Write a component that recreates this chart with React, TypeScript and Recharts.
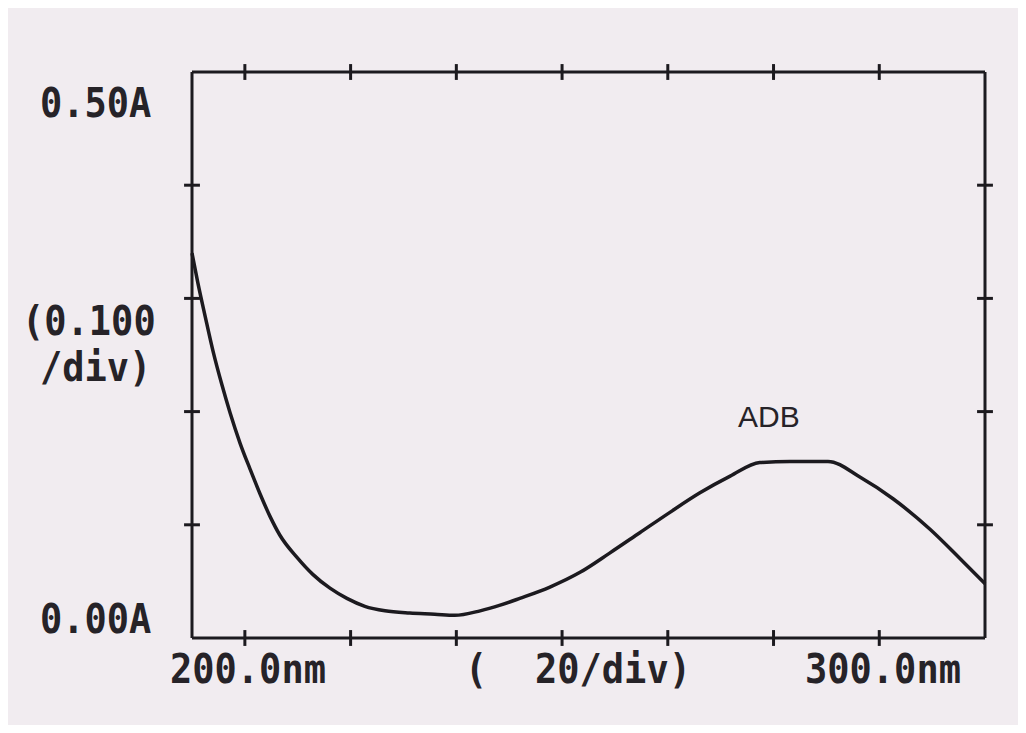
import React from "react";
import { LineChart, Line, XAxis, YAxis, ReferenceLine } from "recharts";

const wavelength = [200.0, 201.1, 202.5, 204.0, 205.7, 207.2, 209.1, 211.0, 212.9, 214.8, 216.6, 219.9, 222.9, 226.1, 229.3, 232.7, 236.5, 241.2, 245.9, 249.7, 254.5, 258.3, 262.0, 267.7, 273.4, 279.0, 284.7, 290.4, 296.0, 301.8, 307.4, 313.1, 320.3, 326.4, 332.6, 339.6, 345.3, 350.0];
const absorbance = [0.34, 0.314, 0.284, 0.253, 0.223, 0.199, 0.172, 0.149, 0.127, 0.107, 0.091, 0.071, 0.056, 0.044, 0.035, 0.028, 0.024, 0.022, 0.021, 0.02, 0.024, 0.029, 0.035, 0.045, 0.058, 0.075, 0.093, 0.111, 0.128, 0.143, 0.155, 0.156, 0.156, 0.142, 0.123, 0.096, 0.07, 0.048];

const xTicks = [210, 230, 250, 270, 290, 310, 330];
const yTicks = [0.1, 0.2, 0.3, 0.4];
const yTickLabels = ["0.50A", "0.00A"];
const yDivLabel = ["(0.100", "/div)"];
const xLabels = ["200.0nm", "(", "20/div)", "300.0nm"];
const peakLabel = "ADB";

const data = wavelength.map((w, i) => ({ w, a: absorbance[i] }));

const ink = "#1c1a1f";
const paper = "#f1ecf0";

const mono: React.CSSProperties = {
  position: "absolute",
  fontFamily: "'DejaVu Sans Mono', monospace",
  fontWeight: "bold",
  fontSize: 37,
  color: "#262328",
  lineHeight: 1,
  whiteSpace: "pre",
  transform: "scaleY(1.12)",
  transformOrigin: "top left",
};

export default function App() {
  return (
    <div style={{ position: "absolute", left: 0, top: 0, width: 1026, height: 733, background: "#ffffff" }}>
      <div style={{ position: "absolute", left: 8, top: 8, width: 1010, height: 717, background: paper }} />
      <div style={{ position: "absolute", left: 0, top: 0 }}>
        <LineChart width={1026} height={733} data={data} margin={{ left: 0, right: 0, top: 72, bottom: 0 }}>
          <XAxis
            xAxisId="b"
            dataKey="w"
            type="number"
            domain={[200, 350]}
            ticks={xTicks}
            tick={false}
            tickLine={false}
            axisLine={{ stroke: ink, strokeWidth: 3 }}
            height={95}
          />
          <YAxis
            yAxisId="l"
            type="number"
            domain={[0, 0.5]}
            tick={false}
            tickLine={false}
            axisLine={{ stroke: ink, strokeWidth: 3 }}
            width={192}
          />
          <YAxis
            yAxisId="r"
            orientation="right"
            type="number"
            domain={[0, 0.5]}
            tick={false}
            tickLine={false}
            axisLine={{ stroke: ink, strokeWidth: 3 }}
            width={41}
          />
          <ReferenceLine
            xAxisId="b"
            yAxisId="l"
            y={0.5}
            stroke={ink}
            strokeWidth={3}
            ifOverflow="visible"
          />
          {xTicks.map((t) => (
            <ReferenceLine
              key={"xb" + t}
              xAxisId="b"
              yAxisId="l"
              segment={[{ x: t, y: -0.007 }, { x: t, y: 0.007 }]}
              stroke={ink}
              strokeWidth={3}
              ifOverflow="visible"
            />
          ))}
          {xTicks.map((t) => (
            <ReferenceLine
              key={"xt" + t}
              xAxisId="b"
              yAxisId="l"
              segment={[{ x: t, y: 0.493 }, { x: t, y: 0.507 }]}
              stroke={ink}
              strokeWidth={3}
              ifOverflow="visible"
            />
          ))}
          {yTicks.map((t) => (
            <ReferenceLine
              key={"yl" + t}
              xAxisId="b"
              yAxisId="l"
              segment={[{ x: 198.5, y: t }, { x: 201.5, y: t }]}
              stroke={ink}
              strokeWidth={3}
              ifOverflow="visible"
            />
          ))}
          {yTicks.map((t) => (
            <ReferenceLine
              key={"yr" + t}
              xAxisId="b"
              yAxisId="l"
              segment={[{ x: 348.5, y: t }, { x: 351.5, y: t }]}
              stroke={ink}
              strokeWidth={3}
              ifOverflow="visible"
            />
          ))}
          <Line
            xAxisId="b"
            yAxisId="l"
            dataKey="a"
            type="monotone"
            stroke={ink}
            strokeWidth={3.5}
            dot={false}
            isAnimationActive={false}
          />
        </LineChart>
      </div>
      <div style={{ ...mono, left: 40, top: 82 }}>{yTickLabels[0]}</div>
      <div style={{ ...mono, left: 22, top: 300 }}>{yDivLabel[0]}</div>
      <div style={{ ...mono, left: 40, top: 346 }}>{yDivLabel[1]}</div>
      <div style={{ ...mono, left: 40, top: 598 }}>{yTickLabels[1]}</div>
      <div style={{ ...mono, left: 170, top: 648 }}>{xLabels[0]}</div>
      <div style={{ ...mono, left: 465, top: 648 }}>{xLabels[1]}</div>
      <div style={{ ...mono, left: 535, top: 648 }}>{xLabels[2]}</div>
      <div style={{ ...mono, left: 805, top: 648 }}>{xLabels[3]}</div>
      <div
        style={{
          position: "absolute",
          left: 738,
          top: 402,
          fontFamily: "'Liberation Sans', Arial, sans-serif",
          fontSize: 30,
          color: "#262328",
          lineHeight: 1,
        }}
      >
        {peakLabel}
      </div>
    </div>
  );
}
